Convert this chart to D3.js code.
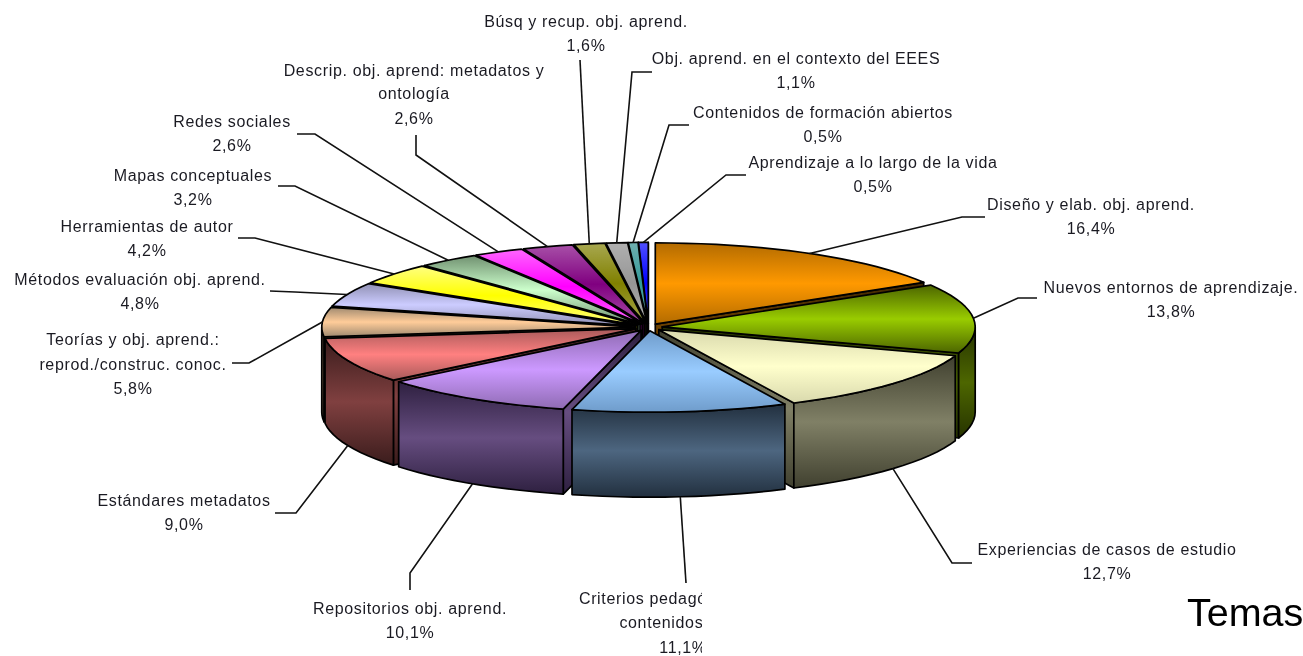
<!DOCTYPE html>
<html><head><meta charset="utf-8">
<script src="https://cdnjs.cloudflare.com/ajax/libs/d3/7.8.5/d3.min.js"></script>
<style>html,body{margin:0;padding:0;background:#fff;overflow:hidden}svg{display:block;filter:blur(.4px)}
text{font-family:"Liberation Sans",Arial,sans-serif;font-size:16px;fill:#1a1a22;letter-spacing:.65px}</style>
</head><body><svg id="c" width="1303" height="656"></svg>
<script>
const categories=[["Diseño y elab. obj. aprend."],["Nuevos entornos de aprendizaje."],["Experiencias de casos de estudio"],["Criterios pedagógicos para","contenidos y OA"],["Repositorios obj. aprend."],["Estándares metadatos"],["Teorías y obj. aprend.:","reprod./construc. conoc."],["Métodos evaluación obj. aprend."],["Herramientas de autor"],["Mapas conceptuales"],["Redes sociales"],["Descrip. obj. aprend: metadatos y","ontología"],["Búsq y recup. obj. aprend."],["Obj. aprend. en el contexto del EEES"],["Contenidos de formación abiertos"],["Aprendizaje a lo largo de la vida"]];
const values=[16.4,13.8,12.7,11.1,10.1,9.0,5.8,4.8,4.2,3.2,2.6,2.6,1.6,1.1,0.5,0.5];
const topMid=["#ff9900","#99cc00","#ffffcc","#99ccff","#cc99ff","#ff8080","#ffcc99","#ccccff","#ffff00","#ccffcc","#ff00ff","#800080","#808000","#969696","#339999","#0000ff"];
const topEdge=["#b36b00","#4d6600","#d9d9ad","#6f9ccb","#8f6bb3","#a85a5a","#a08a70","#9090b4","#ffff80","#709070","#ff66ff","#a850a8","#a8a850","#b0b0b0","#70b0b0","#5050ff"];
const wallMid=["#804d00","#4d6600","#808066","#4d6680","#664d80","#804040","#80664d","#666680","#808000","#668066","#800080","#400040","#404000","#4b4b4b","#1a4d4d","#000080"];
const wallEdge=["#402600","#263300","#40402f","#22303f","#2e2040","#3a1c1c","#40332a","#333340","#404000","#334033","#400040","#200020","#202000","#252525","#0d2626","#000040"];

// label text centres, line baselines, leader elbow/end points
const labelLayout=[
 {x:1091,y:[210,234],leader:[[962,217],[985,217]]},
 {x:1171,y:[293,317],leader:[[1018,298],[1037,298]]},
 {x:1107,y:[555,579],leader:[[952,563],[972,563]]},
 {x:683,y:[604,628,653],leader:[[686,583]],clip:true},
 {x:410,y:[614,638],leader:[[410,573],[410,590]]},
 {x:184,y:[506,530],leader:[[296,513],[275,513]]},
 {x:133,y:[345,370,394],leader:[[249,363],[232,363]]},
 {x:140,y:[285,309],leader:[[295,292],[270,291]]},
 {x:147,y:[232,256],leader:[[255,238],[238,238]]},
 {x:193,y:[181,205],leader:[[295,186],[278,186]]},
 {x:232,y:[127,151],leader:[[315,134],[297,134]]},
 {x:414,y:[76,99,124],leader:[[416,155],[416,135]]},
 {x:586,y:[27,51],leader:[[580,60]]},
 {x:796,y:[64,88],leader:[[632,72],[652,72]]},
 {x:823,y:[118,142],leader:[[669,125],[689,125]]},
 {x:873,y:[168,192],leader:[[726,175],[746,175]]}
];

const cx=648.5,cy=327.3,rx=313,ry=81.3,depth=85,explode=0.044;
const svg=d3.select("#c");
const defs=svg.append("defs");
defs.append("clipPath").attr("id","cut").append("rect").attr("x",0).attr("y",0).attr("width",702).attr("height",656);

function grad(id,edge,mid){
  const g=defs.append("linearGradient").attr("id",id).attr("x1",0).attr("y1",0).attr("x2",0).attr("y2",1);
  g.append("stop").attr("offset",0).attr("stop-color",edge);
  g.append("stop").attr("offset",.5).attr("stop-color",mid);
  g.append("stop").attr("offset",1).attr("stop-color",edge);
}
const arcs=d3.pie().value(d=>d).sort(null)(values).map((a,i)=>{
  const mid=(a.startAngle+a.endAngle)/2;
  return {i,a0:a.startAngle,a1:a.endAngle,mid,ox:cx+explode*rx*Math.sin(mid),oy:cy-explode*ry*Math.cos(mid)};
});
const pt=(s,t,dz=0)=>[s.ox+rx*Math.sin(t),s.oy-ry*Math.cos(t)+dz];
const line=d3.line();
const samples=(s,a,b)=>{const n=Math.max(2,Math.ceil((b-a)/0.05));return d3.range(n+1).map(k=>a+(b-a)*k/n);};

const stroke={stroke:"#000","stroke-width":1.7,"stroke-linejoin":"round"};
function poly(points,fill){
  const p=svg.append("path").attr("d",line(points)+"Z").attr("fill",fill);
  Object.entries(stroke).forEach(([k,v])=>p.attr(k,v));
}
arcs.forEach(s=>{grad("t"+s.i,topEdge[s.i],topMid[s.i]);grad("w"+s.i,wallEdge[s.i],wallMid[s.i]);});

[...arcs].sort((a,b)=>Math.cos(b.mid)-Math.cos(a.mid)).forEach(s=>{
  const wf=`url(#w${s.i})`;
  const apex=[s.ox,s.oy],apexB=[s.ox,s.oy+depth];
  if(Math.sin(s.a1)>0) poly([apex,pt(s,s.a1),pt(s,s.a1,depth),apexB],wf);
  if(Math.sin(s.a0)<0) poly([apex,pt(s,s.a0),pt(s,s.a0,depth),apexB],wf);
  const v0=Math.max(s.a0,Math.PI/2),v1=Math.min(s.a1,Math.PI*1.5);
  if(v1>v0){
    const ts=samples(s,v0,v1);
    poly([...ts.map(t=>pt(s,t)),...ts.slice().reverse().map(t=>pt(s,t,depth))],wf);
  }
  poly([apex,...samples(s,s.a0,s.a1).map(t=>pt(s,t))],`url(#t${s.i})`);
});

arcs.forEach(s=>{
  const front=Math.cos(s.mid)<-0.1;
  const start=pt(s,s.mid,front?depth:0);
  svg.append("path").attr("d",line([start,...labelLayout[s.i].leader])).attr("fill","none").attr("stroke","#111").attr("stroke-width",1.6);
});

arcs.forEach(s=>{
  const L=labelLayout[s.i];
  const rows=[...categories[s.i],values[s.i].toFixed(1).replace(".",",")+"%"];
  const g=svg.append("g");
  if(L.clip) g.attr("clip-path","url(#cut)");
  g.selectAll("text").data(rows).join("text").attr("x",L.x).attr("y",(d,k)=>L.y[k]).attr("text-anchor","middle").text(d=>d);
});
svg.append("text").attr("x",1187).attr("y",626).style("font-size","39.5px").style("letter-spacing","0").style("fill","#000").text("Temas");
</script></body></html>
